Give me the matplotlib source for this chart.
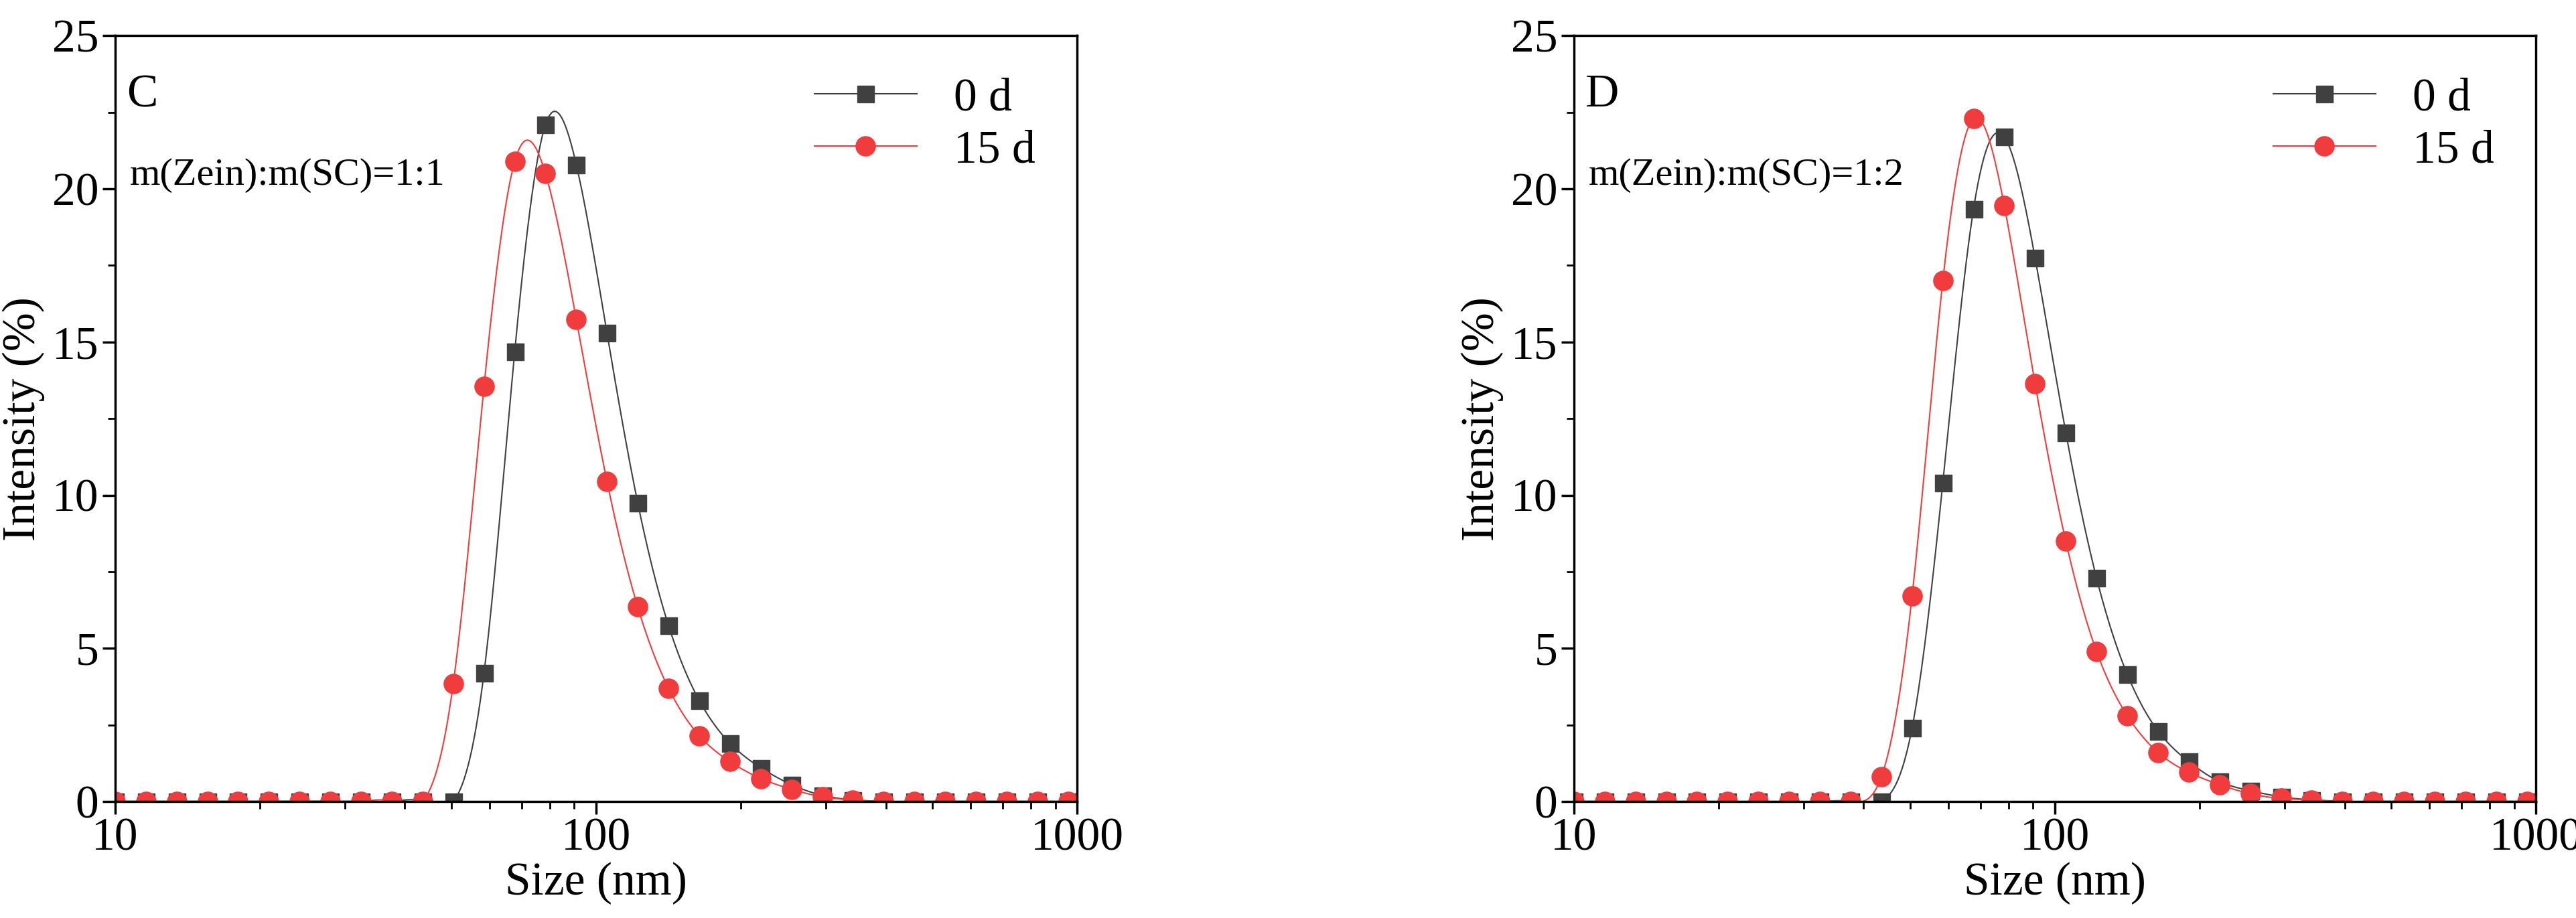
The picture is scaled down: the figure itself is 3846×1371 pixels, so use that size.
import numpy as np
import matplotlib
matplotlib.use('Agg')
import matplotlib.pyplot as plt
from matplotlib.ticker import MultipleLocator, LogLocator, NullFormatter, FixedLocator, FixedFormatter

plt.rcParams['font.family'] = ['Liberation Serif', 'DejaVu Serif']

# size grid (nm), log spaced
sizes = 10 ** (1 + 0.0639 * np.arange(32))

c_0d = [0]*11 + [0, 4.2, 14.7, 22.1, 20.8, 15.3, 9.75, 5.75, 3.3, 1.9, 1.1, 0.55, 0.2, 0.05] + [0]*7
c_15d = [0]*10 + [0, 3.85, 13.55, 20.9, 20.5, 15.75, 10.45, 6.35, 3.7, 2.15, 1.3, 0.75, 0.4, 0.15, 0.05] + [0]*7
d_0d = [0]*10 + [0, 2.4, 10.4, 19.35, 21.7, 17.75, 12.05, 7.3, 4.15, 2.3, 1.3, 0.65, 0.35, 0.15, 0.05] + [0]*7
d_15d = [0]*9 + [0, 0.8, 6.7, 17.0, 22.3, 19.45, 13.65, 8.5, 4.9, 2.8, 1.6, 0.95, 0.55, 0.25, 0.1, 0.05] + [0]*7

panels = [('C', 'm(Zein):m(SC)=1:1', c_0d, c_15d),
          ('D', 'm(Zein):m(SC)=1:2', d_0d, d_15d)]


def spline(x, y, n=20):
    # natural cubic spline in log-x, drawn as the smooth connecting line
    x = np.asarray(x, float); y = np.asarray(y, float)
    h = np.diff(x)
    N = len(x)
    A = np.zeros((N, N)); b = np.zeros(N)
    A[0, 0] = A[-1, -1] = 1
    for i in range(1, N-1):
        A[i, i-1] = h[i-1]; A[i, i] = 2*(h[i-1]+h[i]); A[i, i+1] = h[i]
        b[i] = 3*((y[i+1]-y[i])/h[i] - (y[i]-y[i-1])/h[i-1])
    c = np.linalg.solve(A, b)
    xs, ys = [], []
    for i in range(N-1):
        t = np.linspace(0, h[i], n, endpoint=False)
        bb = (y[i+1]-y[i])/h[i] - h[i]*(2*c[i]+c[i+1])/3
        d = (c[i+1]-c[i])/(3*h[i])
        xs.append(x[i]+t); ys.append(y[i]+bb*t+c[i]*t**2+d*t**3)
    xs.append([x[-1]]); ys.append([y[-1]])
    return np.concatenate(xs), np.concatenate(ys)


fig = plt.figure(figsize=(38.46, 13.71), dpi=100)
lefts = [0.0447, 0.611]
black = '#404040'
red = '#f03c3c'
fs = 50

for (tag, ratio, y0, y15), l in zip(panels, lefts):
    ax = fig.add_axes([l, 0.127, 0.3735, 0.834])
    lx = np.log10(sizes)
    for y, col, mk, ms, lab in [(y0, black, 's', 18, '0 d'), (y15, red, 'o', 21, '15 d')]:
        sx, sy = spline(lx, y)
        ax.plot(10 ** sx, sy, color=col, lw=1.5)
        ax.plot(sizes, y, ls='none', marker=mk, ms=ms, color=col)
        ax.plot([], [], color=col, lw=1.5, marker=mk, ms=ms, label=lab)
    ax.set_xscale('log')
    ax.set_xlim(10, 1000)
    ax.set_ylim(0, 25)
    ax.yaxis.set_major_locator(MultipleLocator(5))
    ax.yaxis.set_minor_locator(MultipleLocator(2.5))
    ax.xaxis.set_major_locator(FixedLocator([10, 100, 1000]))
    ax.xaxis.set_major_formatter(FixedFormatter(['10', '100', '1000']))
    ax.xaxis.set_minor_locator(LogLocator(base=10, subs=np.arange(2, 10)))
    ax.xaxis.set_minor_formatter(NullFormatter())
    ax.tick_params(which='major', length=14, width=2.5, labelsize=fs, direction='out')
    ax.tick_params(which='minor', length=8, width=2, direction='out')
    for s in ax.spines.values():
        s.set_linewidth(2.5)
    ax.set_xlabel('Size (nm)', fontsize=fs, labelpad=2)
    ax.set_ylabel('Intensity (%)', fontsize=fs, labelpad=8)
    ax.text(0.012, 0.95, tag, transform=ax.transAxes, fontsize=fs, va='top')
    ax.text(0.015, 0.84, ratio, transform=ax.transAxes, fontsize=42, va='top')
    ax.legend(loc='upper right', frameon=False, fontsize=fs, handlelength=2.2,
              borderaxespad=0.5, labelspacing=0.2)

fig.savefig('out.png', dpi=100)
